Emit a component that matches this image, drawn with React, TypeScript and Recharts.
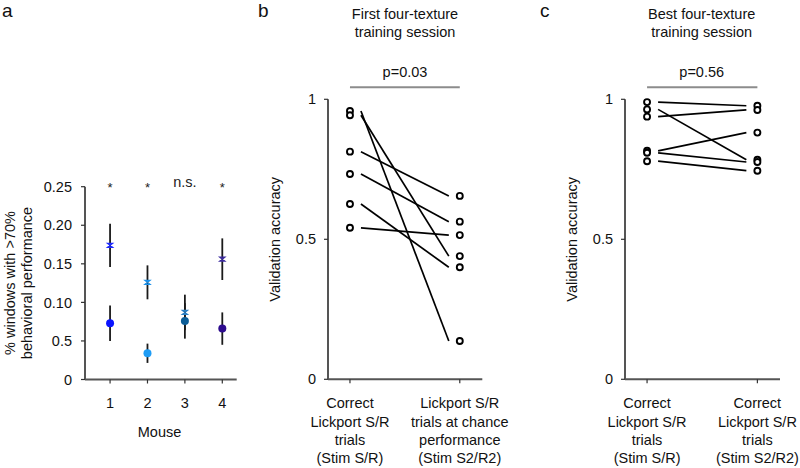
import React from 'react';
import { ScatterChart, Scatter, XAxis, YAxis, ErrorBar, Cell, ReferenceLine } from 'recharts';

// panel a: per-mouse fraction of windows (x marker vs filled dot)
const MICE = [1, 2, 3, 4];
const SIG_LABELS = ['*', '*', 'n.s.', '*'];
const CROSS_MEAN = [0.174, 0.126, 0.087, 0.156];
const CROSS_ERR = [0.028, 0.022, 0.023, 0.027];
const DOT_MEAN = [0.073, 0.034, 0.076, 0.066];
const DOT_ERR = [0.023, 0.0125, 0.023, 0.021];
const A_TICKS = [0, 0.05, 0.1, 0.15, 0.2, 0.25];
const A_TICK_LABELS = ['0', '0.5', '0.10', '0.15', '0.20', '0.25'];

// panel b: first four-texture session
const B_LEFT = [0.958, 0.943, 0.813, 0.733, 0.626, 0.541];
const B_RIGHT = [0.137, 0.44, 0.655, 0.563, 0.4, 0.515];
const B_XLABELS = [
  ['Correct', 'Lickport S/R', 'trials', '(Stim S/R)'],
  ['Lickport S/R', 'trials at chance', 'performance', '(Stim S2/R2)'],
];

// panel c: best four-texture session
const C_LEFT = [0.99, 0.938, 0.964, 0.816, 0.809, 0.779];
const C_RIGHT = [0.977, 0.962, 0.784, 0.881, 0.776, 0.745];
const C_XLABELS = [
  ['Correct', 'Lickport S/R', 'trials', '(Stim S/R)'],
  ['Correct', 'Lickport S/R', 'trials', '(Stim S2/R2)'],
];

const VAL_TICKS = [0, 0.5, 1];

const DOT_COLORS = ['#0a14ff', '#1e9cf5', '#0b5d97', '#2d0b8e'];
const CROSS_COLORS = ['#1f2bff', '#1a8fe8', '#2a7fc4', '#3b2a9e'];

const FONT = '"Liberation Sans", Arial, sans-serif';
const FS = 14.5;
const AXIS_LINE = { stroke: '#555', strokeWidth: 2 };
const TICK_LINE = { stroke: '#333', strokeWidth: 1.2 };
const P_BAR_Y = 1.043;

const Empty = () => <g />;

const XMark = (p: any) => (
  <path
    d={`M${p.cx - 2.5},${p.cy - 2}h5l-5,4h5z`}
    fill="none"
    stroke={p.fill}
    strokeWidth={1.3}
  />
);

const Dot = (p: any) => <circle cx={p.cx} cy={p.cy} r={4} fill={p.fill} />;

const OpenCircle = (p: any) => (
  <circle cx={p.cx} cy={p.cy} r={3} fill="#fff" stroke="#000" strokeWidth={1.9} />
);

const SigText = (p: any) => {
  const star = p.payload.label === '*';
  return (
    <text
      x={p.cx}
      y={p.cy + (star ? 5 : 0)}
      textAnchor="middle"
      fontSize={star ? 13 : FS}
      fill="#222"
    >
      {p.payload.label}
    </text>
  );
};

function CatTick(props: any) {
  const { x, y, payload, lines } = props;
  const rows: string[] = lines[payload.value === 1 ? 0 : 1];
  return (
    <text textAnchor="middle" fontSize={FS} fill="#111">
      {rows.map((s, i) => (
        <tspan key={i} x={x} y={y + 23 + i * 18.3}>
          {s}
        </tspan>
      ))}
    </text>
  );
}

function PanelA() {
  const crossData = MICE.map((m, i) => ({ x: m, y: CROSS_MEAN[i], err: CROSS_ERR[i] }));
  const dotData = MICE.map((m, i) => ({ x: m, y: DOT_MEAN[i], err: DOT_ERR[i] }));
  const sigData = MICE.map((m, i) => ({ x: m, y: 0.25, label: SIG_LABELS[i] }));
  return (
    <ScatterChart width={270} height={468} margin={{ top: 186.7, right: 33.3, bottom: 0, left: 0 }}>
      <XAxis
        type="number"
        dataKey="x"
        domain={[0.33, 4.385]}
        ticks={MICE}
        height={88.5}
        axisLine={AXIS_LINE}
        tickLine={TICK_LINE}
        tickSize={4}
        tickMargin={14}
        tick={{ fontSize: FS, fill: '#111' }}
      />
      <YAxis
        type="number"
        dataKey="y"
        domain={[0, 0.25]}
        ticks={A_TICKS}
        width={85}
        axisLine={AXIS_LINE}
        tickLine={TICK_LINE}
        tickSize={4}
        tickMargin={9}
        tick={{ fontSize: FS, fill: '#111' }}
        tickFormatter={(v: number) => A_TICK_LABELS[A_TICKS.indexOf(v)]}
      />
      <Scatter data={crossData} shape={Empty} isAnimationActive={false}>
        <ErrorBar dataKey="err" direction="y" width={0} stroke="#1a1a1a" strokeWidth={1.8} />
      </Scatter>
      <Scatter data={dotData} shape={Dot} isAnimationActive={false}>
        <ErrorBar dataKey="err" direction="y" width={0} stroke="#1a1a1a" strokeWidth={1.8} />
        {dotData.map((_, i) => (
          <Cell key={i} fill={DOT_COLORS[i]} />
        ))}
      </Scatter>
      <Scatter data={crossData} shape={XMark} isAnimationActive={false}>
        {crossData.map((_, i) => (
          <Cell key={i} fill={CROSS_COLORS[i]} />
        ))}
      </Scatter>
      <Scatter data={sigData} shape={SigText} isAnimationActive={false} />
    </ScatterChart>
  );
}

function PairedPanel({ left, right, xLabels, width, rightMargin }: any) {
  const pointData = [
    ...left.map((v: number) => ({ x: 1, y: v })),
    ...right.map((v: number) => ({ x: 2, y: v })),
  ];
  return (
    <ScatterChart width={width} height={468} margin={{ top: 99.3, right: rightMargin, bottom: 0, left: 0 }}>
      <XAxis
        type="number"
        dataKey="x"
        domain={[0.8, 2.205]}
        ticks={[1, 2]}
        height={88.7}
        axisLine={AXIS_LINE}
        tickLine={TICK_LINE}
        tickSize={4}
        tick={(p: any) => <CatTick {...p} lines={xLabels} />}
      />
      <YAxis
        type="number"
        dataKey="y"
        domain={[0, 1]}
        ticks={VAL_TICKS}
        width={58}
        axisLine={AXIS_LINE}
        tickLine={TICK_LINE}
        tickSize={4}
        tickMargin={8}
        tick={{ fontSize: FS, fill: '#111' }}
      />
      <ReferenceLine
        segment={[
          { x: 1, y: P_BAR_Y },
          { x: 2, y: P_BAR_Y },
        ]}
        stroke="#8c8c8c"
        strokeWidth={2}
        ifOverflow="visible"
      />
      {left.map((v: number, i: number) => (
        <Scatter
          key={i}
          data={[
            { x: 1.1, y: v },
            { x: 1.9, y: right[i] },
          ]}
          fill="#000"
          line={{ stroke: '#000', strokeWidth: 1.7 }}
          shape={Empty}
          isAnimationActive={false}
        />
      ))}
      <Scatter data={pointData} shape={OpenCircle} isAnimationActive={false} />
    </ScatterChart>
  );
}

function Overlay() {
  const t = { fontSize: FS, fill: '#111', textAnchor: 'middle' as const };
  return (
    <svg
      width={800}
      height={468}
      style={{ position: 'absolute', left: 0, top: 0, pointerEvents: 'none', fontFamily: FONT }}
    >
      <text x={2} y={17} fontSize={19} fill="#111">a</text>
      <text x={258} y={17} fontSize={19} fill="#111">b</text>
      <text x={540} y={17} fontSize={19} fill="#111">c</text>

      <text {...t} transform="translate(14.5,283) rotate(-90)">% windows with &gt;70%</text>
      <text {...t} transform="translate(31.5,283) rotate(-90)">behavioral performance</text>
      <text {...t} x={159.5} y={436.5}>Mouse</text>

      <text {...t} x={405} y={19}>First four-texture</text>
      <text {...t} x={405} y={37}>training session</text>
      <text {...t} x={405} y={77}>p=0.03</text>
      <text {...t} transform="translate(279.5,239.3) rotate(-90)">Validation accuracy</text>

      <text {...t} x={701.7} y={19}>Best four-texture</text>
      <text {...t} x={701.7} y={37}>training session</text>
      <text {...t} x={701.7} y={77}>p=0.56</text>
      <text {...t} transform="translate(576.5,239.3) rotate(-90)">Validation accuracy</text>
    </svg>
  );
}

export default function App() {
  return (
    <div
      style={{
        position: 'absolute',
        left: 0,
        top: 0,
        width: 800,
        height: 468,
        background: '#fff',
        fontFamily: FONT,
        overflow: 'hidden',
      }}
    >
      <div style={{ position: 'absolute', left: 0, top: 0 }}>
        <PanelA />
      </div>
      <div style={{ position: 'absolute', left: 270, top: 0 }}>
        <PairedPanel left={B_LEFT} right={B_RIGHT} xLabels={B_XLABELS} width={265} rightMargin={52.7} />
      </div>
      <div style={{ position: 'absolute', left: 567, top: 0 }}>
        <PairedPanel left={C_LEFT} right={C_RIGHT} xLabels={C_XLABELS} width={233} rightMargin={20} />
      </div>
      <Overlay />
    </div>
  );
}
